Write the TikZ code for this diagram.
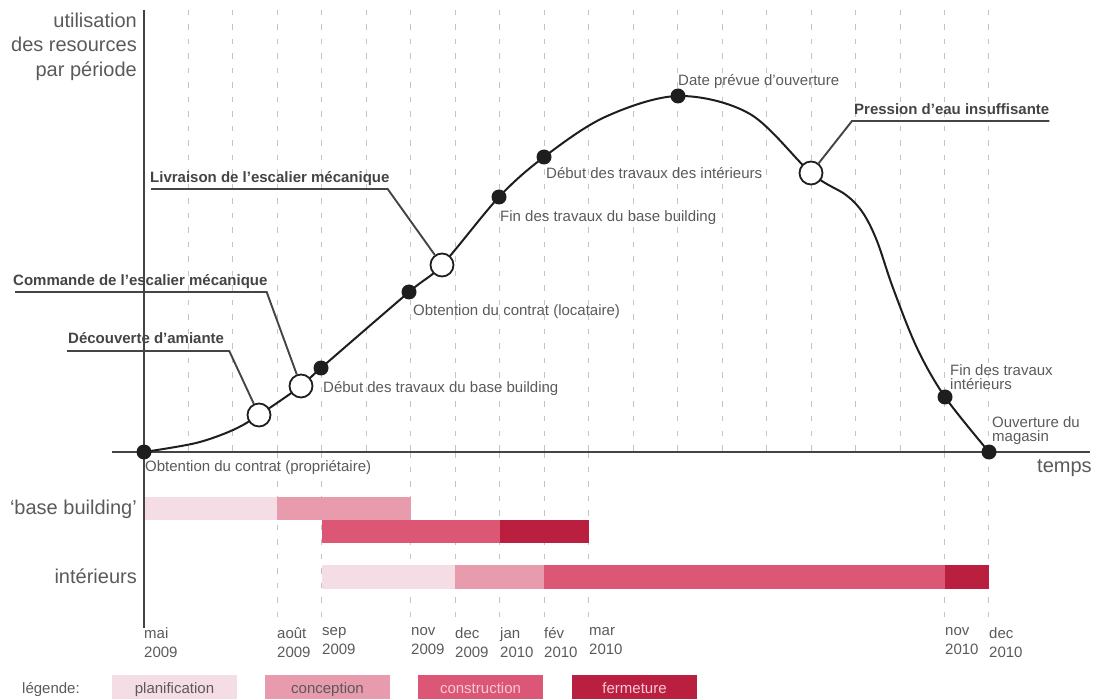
\documentclass[tikz,border=0pt]{standalone}
\usepackage{fontspec}
\setmainfont{Liberation Sans}
\usepackage{xcolor}
\usetikzlibrary{positioning, calc}
\definecolor{plan}{HTML}{F4DDE4}
\definecolor{concept}{HTML}{E99BAE}
\definecolor{constr}{HTML}{DC5775}
\definecolor{ferm}{HTML}{BB1F3F}
\definecolor{gridgrey}{HTML}{C4C4C4}
\definecolor{axisgrey}{HTML}{444444}
\definecolor{inkblack}{HTML}{1E1E1E}
\definecolor{textgrey}{HTML}{5A5A5A}
\definecolor{paletext}{HTML}{F6C9D5}
\tikzset{
  grid/.style = {draw=gridgrey, line width=0.9pt, dash pattern=on 5.5pt off 9pt},
  axis/.style = {draw=axisgrey, line width=2pt},
  curve/.style = {draw=inkblack, line width=2pt},
  dot/.style = {circle, fill=inkblack, inner sep=0pt, minimum size=15pt},
  ring/.style = {circle, draw=inkblack, line width=1.8pt, fill=white,
    inner sep=0pt, minimum size=23pt},
  note/.style = {font=\fontsize{15}{14}\selectfont, text=textgrey,
    inner sep=0pt, align=left},
  event/.style = {font=\bfseries\fontsize{15}{15}\selectfont, text=axisgrey,
    inner sep=0pt},
  leader/.style = {draw=axisgrey, line width=1.9pt},
  title/.style = {font=\fontsize{20}{24.5}\selectfont, text=textgrey,
    inner sep=0pt, align=right},
  month/.style = {font=\fontsize{15}{19}\selectfont, text=textgrey,
    inner sep=0pt, align=left, anchor=north west},
  legbox/.style = {rectangle, minimum width=125pt, minimum height=24pt,
    inner sep=0pt, text height=13pt, text depth=1pt,
    font=\fontsize{15}{15}\selectfont},
}
\begin{document}
\begin{tikzpicture}[x=1pt, y=-1pt]
\useasboundingbox (0,0) rectangle (1095,700);

% grille des mois
\foreach \m in {1,...,19}
  \draw[grid] (144+44.47*\m, 10) -- (144+44.47*\m, 452);
\foreach \m in {3,4,6,7,8,9,10,18,19}
  \draw[grid] (144+44.47*\m, 452) -- (144+44.47*\m, 622);

% barres
\fill[plan] (144,497) rectangle (277,520);
\fill[concept] (277,497) rectangle (411,520);
\fill[constr] (322,520) rectangle (500,543);
\fill[ferm] (500,520) rectangle (589,543);
\fill[plan] (322,565) rectangle (455,589);
\fill[concept] (455,565) rectangle (544,589);
\fill[constr] (544,565) rectangle (945,589);
\fill[ferm] (945,565) rectangle (989,589);

% axes
\draw[axis] (144,10) -- (144,628);
\draw[axis] (112,452) -- (1090,452);
\node[title, anchor=north east] (ytitle) at (137,12.5) {utilisation\\des resources\\par période};
\node[title, anchor=base west] (xtitle) at (1037,472) {temps};
\node[title, anchor=base east] (rowbb) at (137,514) {‘base building’};
\node[title, anchor=base east] (rowint) at (137,583) {intérieurs};

% courbe
\coordinate (p0) at (144,452);
\coordinate (p1) at (259,415);
\coordinate (p2) at (301,386);
\coordinate (p3) at (321,368);
\coordinate (p4) at (409,292);
\coordinate (p5) at (442,265);
\coordinate (p6) at (499,197);
\coordinate (p7) at (544,157);
\coordinate (p8) at (678,96);
\coordinate (p9) at (811,173);
\coordinate (p10) at (945,397);
\coordinate (p11) at (989,452);
\draw[curve] plot[smooth, tension=0.55] coordinates {(p0) (196,443) (233,430) (p1) (p2) (p3) (p4) (p5) (p6) (p7) (605,117) (p8) (750,114) (p9) (846,195) (863,213) (877,241) (893,288) (917,348) (p10) (p11)};

\node[dot] (d0) at (p0) {};
\node[ring] (r1) at (p1) {};
\node[ring] (r2) at (p2) {};
\node[dot] (d3) at (p3) {};
\node[dot] (d4) at (p4) {};
\node[ring] (r3) at (p5) {};
\node[dot] (d6) at (p6) {};
\node[dot] (d7) at (p7) {};
\node[dot] (d8) at (p8) {};
\node[ring] (r4) at (p9) {};
\node[dot] (d10) at (p10) {};
\node[dot] (d11) at (p11) {};

% jalons
\node[note, anchor=base west] (n0) at (145,471) {Obtention du contrat (propriétaire)};
\node[note, anchor=base west] (n3) at (323,393) {Début des travaux du base building};
\node[note, anchor=base west] (n4) at (413,316) {Obtention du contrat (locataire)};
\node[note, anchor=base west] (n6) at (500,222) {Fin des travaux du base building};
\node[note, anchor=base west] (n7) at (546,179) {Début des travaux des intérieurs};
\node[note, anchor=base west] (n8) at (678,86) {Date prévue d’ouverture};
\node[note, anchor=north west] (n10) at (950,364) {Fin des travaux\\intérieurs};
\node[note, anchor=north west] (n11) at (992,416) {Ouverture du\\magasin};

% événements
\node[event, anchor=base west] (tA) at (68,344) {Découverte d’amiante};
\node[event, anchor=base west] (tB) at (13,286) {Commande de l’escalier mécanique};
\node[event, anchor=base west] (tC) at (150,183) {Livraison de l’escalier mécanique};
\node[event, anchor=base west] (tD) at (854,115) {Pression d’eau insuffisante};
\draw[leader] ($(tA.base west)+(-1,7)$) -- ($(tA.base east)+(5,7)$) -- (r1);
\draw[leader] ($(tB.base west)+(2,6)$) -- ($(tB.base east)+(-1,6)$) -- (r2);
\draw[leader] ($(tC.base west)+(1,6)$) -- ($(tC.base east)+(-2,6)$) -- (r3);
\draw[leader] ($(tD.base east)+(0,6)$) -- ($(tD.base west)+(-2,6)$) -- (r4);

% mois
\node[month] (m0) at (144,627) {mai\\2009};
\node[month] (m3) at (277,627) {août\\2009};
\node[month] (m4) at (322,627) {sep\\2009};
\node[month] (m6) at (411,627) {nov\\2009};
\node[month] (m7) at (455,627) {dec\\2009};
\node[month] (m8) at (500,627) {jan\\2010};
\node[month] (m9) at (544,627) {fév\\2010};
\node[month] (m10) at (589,627) {mar\\2010};
\node[month] (m18) at (945,627) {nov\\2010};
\node[month] (m19) at (989,627) {dec\\2010};

% légende
\node[note, anchor=base west] (leg) at (22,693) {légende:};
\node[legbox, fill=plan, text=textgrey] (lg1) at (174.5,687) {planification};
\node[legbox, fill=concept, text=textgrey] (lg2) at (327.5,687) {conception};
\node[legbox, fill=constr, text=paletext] (lg3) at (480.5,687) {construction};
\node[legbox, fill=ferm, text=paletext] (lg4) at (634.5,687) {fermeture};
\end{tikzpicture}
\end{document}
